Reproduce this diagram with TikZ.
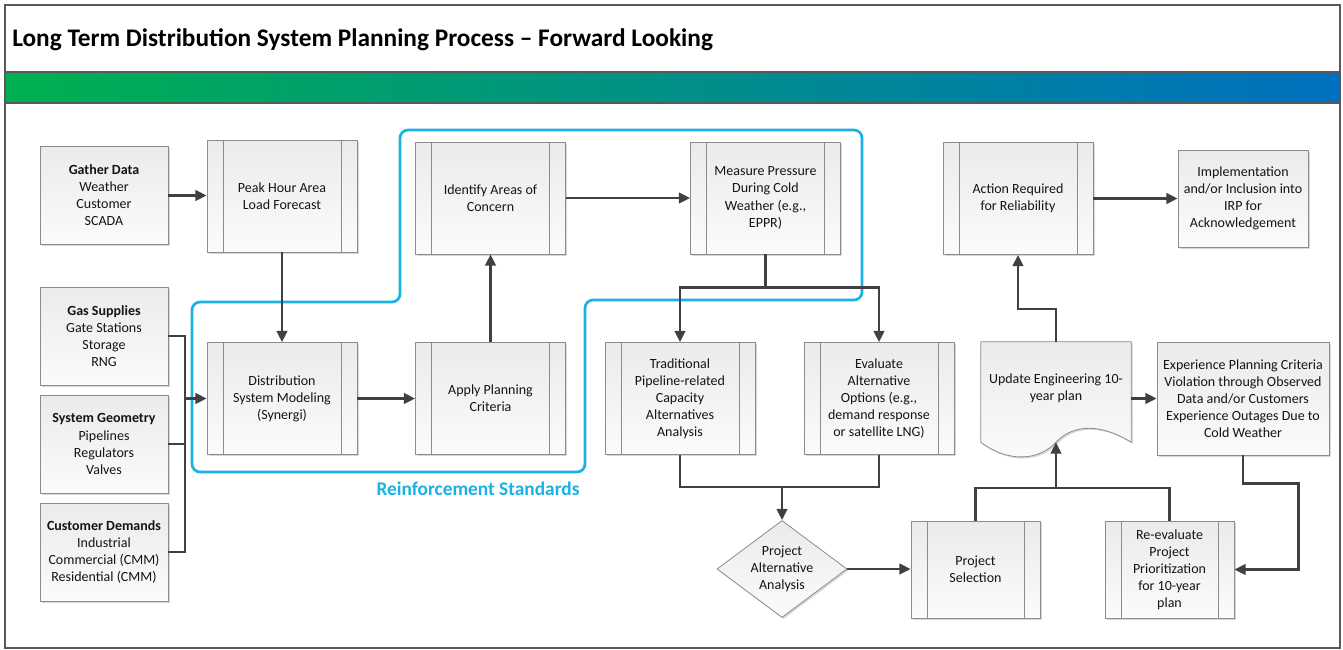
\documentclass[tikz,border=0pt]{standalone}
\usepackage{fontspec}
\setmainfont{Carlito}
\usetikzlibrary{arrows.meta,positioning,calc,shapes.geometric,shadows}
\definecolor{Frame}{HTML}{595959}
\definecolor{Edge}{HTML}{8C8C8C}
\definecolor{Ink}{HTML}{141414}
\definecolor{Wire}{HTML}{404040}
\definecolor{Leaf}{HTML}{00B050}
\definecolor{Sea}{HTML}{0070C0}
\definecolor{Cyan}{HTML}{1AB2E3}
\definecolor{BoxTop}{HTML}{EBEBEB}
\definecolor{BoxBottom}{HTML}{FBFBFB}
\tikzset{box/.style={draw=Edge,line width=0.6pt,top color=BoxTop,bottom color=BoxBottom,text=Ink,align=center,font=\fontsize{10.5}{12.8}\selectfont,inner sep=2pt,drop shadow={shadow xshift=1.2pt,shadow yshift=-1.2pt,opacity=0.3,fill=gray}},databox/.style={box,minimum width=96pt,minimum height=73.5pt},process/.style={box,minimum width=112.5pt,minimum height=84pt,path picture={\draw[Edge,line width=0.6pt] ([xshift=12pt]path picture bounding box.north west)--([xshift=12pt]path picture bounding box.south west) ([xshift=-12pt]path picture bounding box.north east)--([xshift=-12pt]path picture bounding box.south east);}},choice/.style={box,diamond,minimum width=97.5pt,minimum height=72.75pt,inner sep=-4pt},docnode/.style={text=Ink,align=center,font=\fontsize{10.5}{12.8}\selectfont,minimum width=112.5pt,minimum height=75pt},docshape/.style={draw=Edge,line width=0.6pt,top color=BoxTop,bottom color=BoxBottom,drop shadow={shadow xshift=1.2pt,shadow yshift=-1.2pt,opacity=0.3,fill=gray}},link/.style={draw=Wire,line width=1.7pt},flow/.style={link,-{Triangle[length=8.5pt,width=8pt]}},zone/.style={draw=Cyan,line width=2pt,rounded corners=6pt}}

\begin{document}
\begin{tikzpicture}[x=0.75pt,y=-0.75pt]
\useasboundingbox (0,0) rectangle (1343,650);
\fill[white] (5,5) rectangle (1340,648);
\shade[left color=Leaf,right color=Sea] (5,72) rectangle (1340,103);
\draw[Frame,line width=1.5pt] (5,5) rectangle (1340,648) (5,72) -- (1340,72) (5,103) -- (1340,103);
\node[anchor=west,inner sep=0pt,text=black,font=\fontsize{19}{23}\selectfont\bfseries] (T) at (12,40) {Long Term Distribution System Planning Process -- Forward Looking};
\draw[zone] (192,472) -- (192,302) -- (400,302) -- (400,130) -- (862,130) -- (862,300) -- (585,300) -- (585,472) -- cycle;
\node[text=Cyan,font=\fontsize{14.5}{17}\selectfont\bfseries] (RS) at (478,489) {Reinforcement Standards};
\node[databox] (D1) at (104,195.5) {\textbf{Gather Data}\\Weather\\Customer\\SCADA};\node[databox] (D2) at (104,336) {\textbf{Gas Supplies}\\Gate Stations\\Storage\\RNG};\node[databox] (D3) at (104,444) {\textbf{System Geometry}\\Pipelines\\Regulators\\Valves};\node[databox] (D4) at (104,552) {\textbf{Customer Demands}\\Industrial\\Commercial (CMM)\\Residential (CMM)};
\node[process] (P1) at (282,196) {Peak Hour Area\\Load Forecast};\node[process] (P2) at (282,398.5) {Distribution\\System Modeling\\(Synergi)};\node[process] (P3) at (490.5,398.5) {Apply Planning\\Criteria};\node[process] (P4) at (490.5,198) {Identify Areas of\\Concern};\node[process] (P5) at (765.5,198) {Measure Pressure\\During Cold\\Weather (e.g.,\\EPPR)};
\node[process] (P6) at (680,398.5) {Traditional\\Pipeline-related\\Capacity\\Alternatives\\Analysis};\node[process] (P7) at (879,398.5) {Evaluate\\Alternative\\Options (e.g.,\\demand response\\or satellite LNG)};
\node[choice] (Q) at (782,569) {Project\\Alternative\\Analysis};\node[process,minimum width=96.75pt,minimum height=72.75pt] (P8) at (975.5,569.5) {Project\\Selection};\node[process,minimum width=96.75pt,minimum height=72.75pt] (P9) at (1169.5,569.5) {Re-evaluate\\Project\\Prioritization\\for 10-year\\plan};
\node[process] (P10) at (1018,198.5) {Action Required\\for Reliability};\node[databox,minimum width=97.5pt,minimum height=72.75pt] (D5) at (1243,198.5) {Implementation\\and/or Inclusion into\\IRP for\\Acknowledgement};
\node[docnode] (U) at (1056,392) {};\draw[docshape] (U.north west) -- (U.north east) -- (U.south east) .. controls +(-36,-22) and +(14,-15) .. (U.south) .. controls +(-16,17) and +(30,22) .. (U.south west) -- cycle;\node[docnode] at (U) [yshift=3pt] {Update Engineering 10-\\year plan};
\node[box,minimum width=129pt,minimum height=84.75pt] (E) at (1243,398.5) {Experience Planning Criteria\\Violation through Observed\\Data and/or Customers\\Experience Outages Due to\\Cold Weather};
\draw[flow] (D1.east) -- (D1.east -| P1.west);\draw[flow] (P1.south) -- (P2.north);\draw[flow] (P2.east) -- (P3.west);\draw[flow] (P3.north) -- (P4.south);\draw[flow] (P4.east) -- (P4.east -| P5.west);
\coordinate (bus) at (185,398.5);\draw[link] (D2.east) -| (D4.east -| bus) -- (D4.east);\draw[link] (D3.east) -- (D3.east -| bus);\draw[flow] (bus) -- (P2.west);
\coordinate (split) at ($(P5.south)+(0,33)$);\draw[link] (P5.south) -- (split);\draw[flow] (split) -| (P6.north);\draw[flow] (split) -| (P7.north);
\coordinate (merge) at (782,487);\draw[link] (P6.south) |- (merge);\draw[link] (P7.south) |- (merge);\draw[flow] (merge) -- (Q.north);
\draw[flow] (Q.east) -- (Q.east -| P8.west);
\coordinate (join) at ($(U.south)+(0,46)$);\draw[link] (P8.north) |- (join);\draw[link] (P9.north) |- (join);\draw[flow] (join) -- (U.south);
\draw[flow] (U.north) -- ++(0,-33) -| (P10.south);\draw[flow] (E.west -| U.east) -- (E.west);\draw[flow] (P10.east) -- (P10.east -| D5.west);
\draw[flow] (E.south) -- ++(0,28) -| ($(P9.east)+(64,0)$) -- (P9.east);
\end{tikzpicture}
\end{document}
